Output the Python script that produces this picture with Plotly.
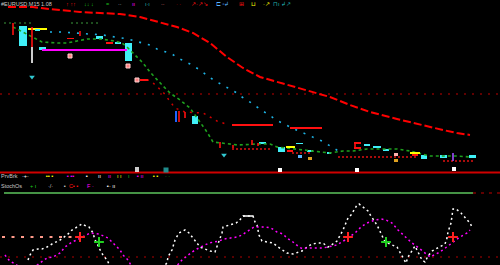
import plotly.graph_objects as go

# ---------------- data (chart units) ----------------
# slow moving average (red dashed)
ma_x = [8, 33, 40, 60, 80, 100, 120, 140, 160, 177, 193, 210, 227, 243, 260, 277, 300, 330, 350, 370, 397, 417, 430, 443, 457, 470]
ma_y = [7, 7, 8, 10, 12, 13, 14, 17, 22, 27, 33, 43, 57, 68, 77, 82, 88, 97, 105, 112, 119, 124, 127, 130, 133, 135]

# fast signal line (green dotted)
sig_x = [13, 25, 37, 42, 58, 67, 77, 87, 100, 107, 115, 122, 127, 132, 137, 143, 150, 157, 163, 170, 180, 190, 200, 207, 213, 220, 238, 258, 270, 277, 287, 293, 303, 323, 330, 343, 353, 367, 397, 410, 430, 457, 470]
sig_y = [27, 33, 39, 42, 43, 43, 41, 39, 39, 40, 41, 43, 47, 52, 57, 63, 72, 80, 86, 93, 100, 108, 122, 132, 142, 143, 145, 144, 144, 147, 148, 149, 150, 152, 153, 151, 151, 149, 149, 151, 156, 156, 157]

# upper pale green level segments
lvl_x = [4, 32, None, 71, 100]
lvl_y = [23, 23, None, 23, 23]

# cyan dotted trend
cy_x = [50, 62, 75, 87, 95, 103, 115, 122, 128, 135, 150, 157, 165, 172, 178, 190, 200, 209, 217, 232, 237, 242, 247, 253, 257, 278, 294, 317, 322, 340]
cy_y = [32, 32, 33, 34, 34, 35, 37, 38, 39, 41, 45, 49, 52, 54, 58, 64, 70, 77, 82, 90, 93, 97, 100, 104, 107, 121, 129, 139, 141, 152]

# secondary red dotted
r2_x = [140, 148, 152, 158, 163, 169, 175, 185, 203, 210, 217, 226]
r2_y = [80, 80, 82, 87, 92, 100, 108, 112, 113, 117, 121, 124]

# horizontal levels
mid_level = 94
panel_sep = 172.5
osc_hi = 193
osc_mid = 237
osc_lo = 257

# candle bodies
body_l = [19, 39, 125, 96, 106, 115, 67, 192, 175, 278, 287, 298, 308, 307, 327, 373, 383, 394, 394, 421, 440, 469, 259, 296]
body_r = [27, 46, 132, 103, 113, 121, 74, 198, 177, 285, 293, 302, 312, 313, 331, 381, 389, 398, 398, 427, 447, 476, 266, 303]
body_t = [26, 47, 43, 36, 42, 42, 38, 116, 111, 147, 150, 155, 157, 150, 152, 146, 149, 153, 159, 155, 155, 155, 142, 143]
body_b = [46, 50, 61, 39, 44, 44, 39, 124, 122, 152, 152, 158, 160, 152, 154, 148, 151, 156, 162, 159, 158, 158, 144, 144]
body_k = ["up", "up", "up", "up", "dn", "up", "dn", "up", "blue", "up", "dn", "sky", "amber", "up", "up", "up", "up", "pink", "amber", "up", "up", "up", "up", "up"]

# wicks
wick_x = [13, 32, 32, 80, 179, 185, 220, 233, 252, 258, 453, 136, 138, 355]
wick_t = [23, 27, 47, 31, 111, 112, 142, 145, 140, 143, 153, 167, 167, 143]
wick_b = [35, 47, 63, 36, 122, 118, 148, 148, 145, 146, 161, 172, 172, 148]
wick_k = ["dn", "dn", "wh", "dn", "dn", "dn", "dn", "dn", "dn", "dn", "pu", "wh", "wh", "dn"]

# horizontal segments
hs_l = [28, 42, 232, 290, 140, 286, 410, 412, 35, 354, 354, 364]
hs_r = [47, 127, 273, 322, 148, 295, 420, 418, 40, 361, 361, 370]
hs_y = [29, 50, 125, 128, 80, 147, 153, 155, 30, 143, 148, 145]
hs_k = ["ye", "ma", "dn", "dn", "dn", "ye", "ye", "dn", "up", "dn", "dn", "up"]

# dotted short levels
dl_l = [232, 292, 338, 443]
dl_r = [272, 310, 417, 473]
dl_y = [149, 153, 157, 161]

# arrows / signal marks
pink_x = [70, 128, 137]
pink_y = [56, 66, 80]
wmark_x = [32, 224]
wmark_y = [77, 155]
white_x = [280, 357, 454]
white_y = [170, 170, 169]
teal_x = [166]
teal_y = [170]

# oscillator (white dotted)
osc_x = [28, 30, 33, 38, 42, 47, 52, 60, 67, 72, 77, 82, 86, 89, 91, 93, 95, 97, 99, 103, 107, 112, 140, 167, 168, 172, 175, 179, 185, 189, 193, 200, 205, 210, 215, 219, 222, 223, 236, 239, 243, 253, 255, 257, 259, 262, 273, 278, 283, 287, 293, 297, 302, 307, 312, 318, 323, 328, 330, 337, 343, 348, 351, 357, 359, 368, 369, 377, 380, 385, 397, 400, 404, 406, 408, 412, 415, 422, 425, 428, 432, 445, 447, 448, 451, 453, 456, 461, 463, 467, 470, 472]
osc_y = [260, 255, 250, 249, 249, 247, 244, 240, 235, 230, 227, 224, 226, 227, 230, 233, 240, 243, 248, 255, 260, 270, 290, 263, 257, 250, 240, 233, 230, 233, 238, 247, 249, 251, 252, 240, 233, 227, 223, 221, 216, 216, 222, 225, 235, 241, 243, 247, 250, 253, 254, 253, 251, 247, 244, 243, 243, 247, 246, 241, 230, 218, 215, 205, 204, 211, 213, 225, 232, 242, 247, 252, 260, 263, 257, 251, 246, 260, 262, 256, 251, 244, 238, 232, 223, 209, 209, 213, 215, 219, 223, 227]

# oscillator signal (magenta dotted)
sg_x = [5, 7, 10, 15, 28, 40, 47, 53, 60, 65, 72, 77, 82, 90, 99, 108, 112, 120, 123, 128, 135, 175, 182, 187, 192, 197, 202, 205, 209, 215, 219, 224, 237, 242, 247, 254, 259, 265, 271, 277, 283, 287, 293, 299, 303, 307, 323, 337, 345, 355, 361, 367, 375, 381, 386, 392, 398, 404, 412, 415, 419, 424, 430, 440, 447, 451, 455, 460, 467, 470]
sg_y = [255, 258, 261, 264, 272, 263, 258, 257, 253, 247, 242, 240, 237, 233, 234, 238, 242, 250, 255, 260, 272, 268, 260, 256, 252, 249, 247, 245, 243, 242, 241, 239, 237, 235, 232, 227, 227, 227, 228, 232, 234, 238, 242, 247, 249, 248, 248, 245, 240, 233, 227, 223, 220, 219, 220, 223, 230, 236, 243, 245, 248, 252, 257, 252, 247, 244, 241, 237, 233, 230]

cross_r_x = [80, 348, 453]
cross_r_y = [237, 237, 237]
cross_g_x = [99, 386]
cross_g_y = [242, 242]

# header / panel labels
head_x = [0, 65, 83, 105, 117, 131, 144, 160, 175, 190, 215, 238, 250, 262, 272]
head_t = ["#EURUSD,M15 1.08", "↑ ↑↑", "↓↓ ↓", "=", "··", "ıı", "ı·ı", "··", "· ·", "↗·↗↘", "⊏ ▫↲", "⊞", "⊔", "·↗", "⊓ı ↲↗"]
head_k = ["gy", "dn", "gr", "gr", "gy", "ma", "te", "pk", "dr", "dn", "sky", "dn", "ye", "ye", "te"]

row1_x = [0, 21, 45, 66, 85, 97, 107, 116, 127, 136, 152, 164]
row1_t = ["PrvBrk", "·+·", "▪▪ ▪", "▪ ▪▪", "▪", "ıı", "ıı", "ı ı", "ı", "▪ ıı", "▪ ▪", "· ·"]
row1_k = ["gy", "wh", "ye", "ma", "wh", "wh", "ma", "ye", "gr", "ma", "ye", "gr"]
row2_x = [0, 29, 47, 63, 68, 86, 106]
row2_t = ["StochOs", "+ ı", "·/·", "▪", "C▪ ▪", "F ·", "▪· ıı"]
row2_k = ["gy", "gr", "gy", "gy", "dn", "ma", "wh"]

# ---------------- styling ----------------
PAL = {"up": "#40f0f8", "dn": "#ff1010", "blue": "#1e64ff", "sky": "#5ab4ff", "amber": "#e0a020",
       "pink": "#ffb0b0", "wh": "#ffffff", "pu": "#a050ff", "ye": "#ffff00", "ma": "#ff00ff",
       "gy": "#c8c8c8", "gr": "#1ec81e", "te": "#20b4b4", "pk": "#ff9090", "dr": "#c00000"}

fig = go.Figure()


def line(x, y, color, width=1, dash="solid"):
    fig.add_trace(go.Scatter(x=x, y=y, mode="lines", line=dict(color=color, width=width, dash=dash),
                             hoverinfo="skip", showlegend=False, connectgaps=False))


# levels
line([0, 500], [mid_level, mid_level], "#c00000", 1.2, "2px,6px")
line([0, 500], [panel_sep, panel_sep], "#d00000", 2)
line([4, 473], [osc_hi, osc_hi], "#5cc45c", 1.5)
line([473, 500], [osc_hi, osc_hi], "#c00000", 1.2, "3px,5px")
line([0, 500], [osc_lo, osc_lo], "#b00000", 1.2, "2px,6px")
line([2, 75], [osc_mid, osc_mid], "#ff9a8a", 2, "3px,6.5px")
for l, r, yv in zip(dl_l, dl_r, dl_y):
    line([l, r], [yv, yv], "#e01010", 1.5, "2px,2px")

# indicator lines
line(ma_x, ma_y, "#ff0000", 2, "8px,3px")
line(sig_x, sig_y, "#1ea01e", 1.6, "3px,3px")
line(lvl_x, lvl_y, "#3c9a3c", 1.2, "2px,3px")
line(cy_x, cy_y, "#1eb4e6", 1.6, "2px,7px")
line(r2_x, r2_y, "#d00000", 1.5, "2px,5px")

# horizontal segments
for l, r, yv, k in zip(hs_l, hs_r, hs_y, hs_k):
    line([l, r], [yv, yv], PAL[k], 2)

# wicks
for xv, t, b, k in zip(wick_x, wick_t, wick_b, wick_k):
    line([xv, xv], [t, b], PAL[k], 1.6)

# candle bodies
fig.add_trace(go.Bar(
    x=[(l + r) / 2 for l, r in zip(body_l, body_r)],
    y=[b - t for t, b in zip(body_t, body_b)],
    base=body_t,
    width=[r - l for l, r in zip(body_l, body_r)],
    marker=dict(color=[PAL[k] for k in body_k], line=dict(width=0)),
    hoverinfo="skip", showlegend=False))

# markers
fig.add_trace(go.Scatter(x=pink_x, y=pink_y, mode="markers", hoverinfo="skip", showlegend=False,
                         marker=dict(symbol="square", size=4, color="#ff8080", line=dict(color="#ffd0d0", width=1))))
fig.add_trace(go.Scatter(x=wmark_x, y=wmark_y, mode="markers", hoverinfo="skip", showlegend=False,
                         marker=dict(symbol="triangle-down", size=5, color="#30c8d0")))
fig.add_trace(go.Scatter(x=white_x, y=white_y, mode="markers", hoverinfo="skip", showlegend=False,
                         marker=dict(symbol="square", size=4, color="#ffffff")))
fig.add_trace(go.Scatter(x=teal_x, y=teal_y, mode="markers", hoverinfo="skip", showlegend=False,
                         marker=dict(symbol="square", size=5, color="#208c8c")))

# oscillator
line(osc_x, osc_y, "#ffffff", 1.5, "2px,3px")
line(sg_x, sg_y, "#ff00ff", 1.5, "2px,3px")
line([243, 253], [216, 216], "#ffffff", 1.5)
fig.add_trace(go.Scatter(x=cross_r_x, y=cross_r_y, mode="markers", hoverinfo="skip", showlegend=False,
                         marker=dict(symbol="cross-thin", size=7, line=dict(color="#ff2020", width=2))))
fig.add_trace(go.Scatter(x=cross_g_x, y=cross_g_y, mode="markers", hoverinfo="skip", showlegend=False,
                         marker=dict(symbol="cross-thin", size=7, line=dict(color="#20d020", width=2))))

# labels
anns = []
for xs, ts, ks, yv in ((head_x, head_t, head_k, 3.5), (row1_x, row1_t, row1_k, 176), (row2_x, row2_t, row2_k, 185.5)):
    for xv, t, k in zip(xs, ts, ks):
        anns.append(dict(x=xv, y=yv, xref="x", yref="y", text=t, showarrow=False, xanchor="left", yanchor="middle",
                         font=dict(family="Liberation Sans Narrow, Liberation Sans", size=5.5, color=PAL[k]),
                         borderpad=0))

fig.update_layout(
    width=500, height=265, margin=dict(l=0, r=0, t=0, b=0),
    paper_bgcolor="#000000", plot_bgcolor="#000000",
    xaxis=dict(range=[0, 500], visible=False, fixedrange=True),
    yaxis=dict(range=[265, 0], visible=False, fixedrange=True),
    annotations=anns, bargap=0, showlegend=False,
)

fig.write_html("out.html")
